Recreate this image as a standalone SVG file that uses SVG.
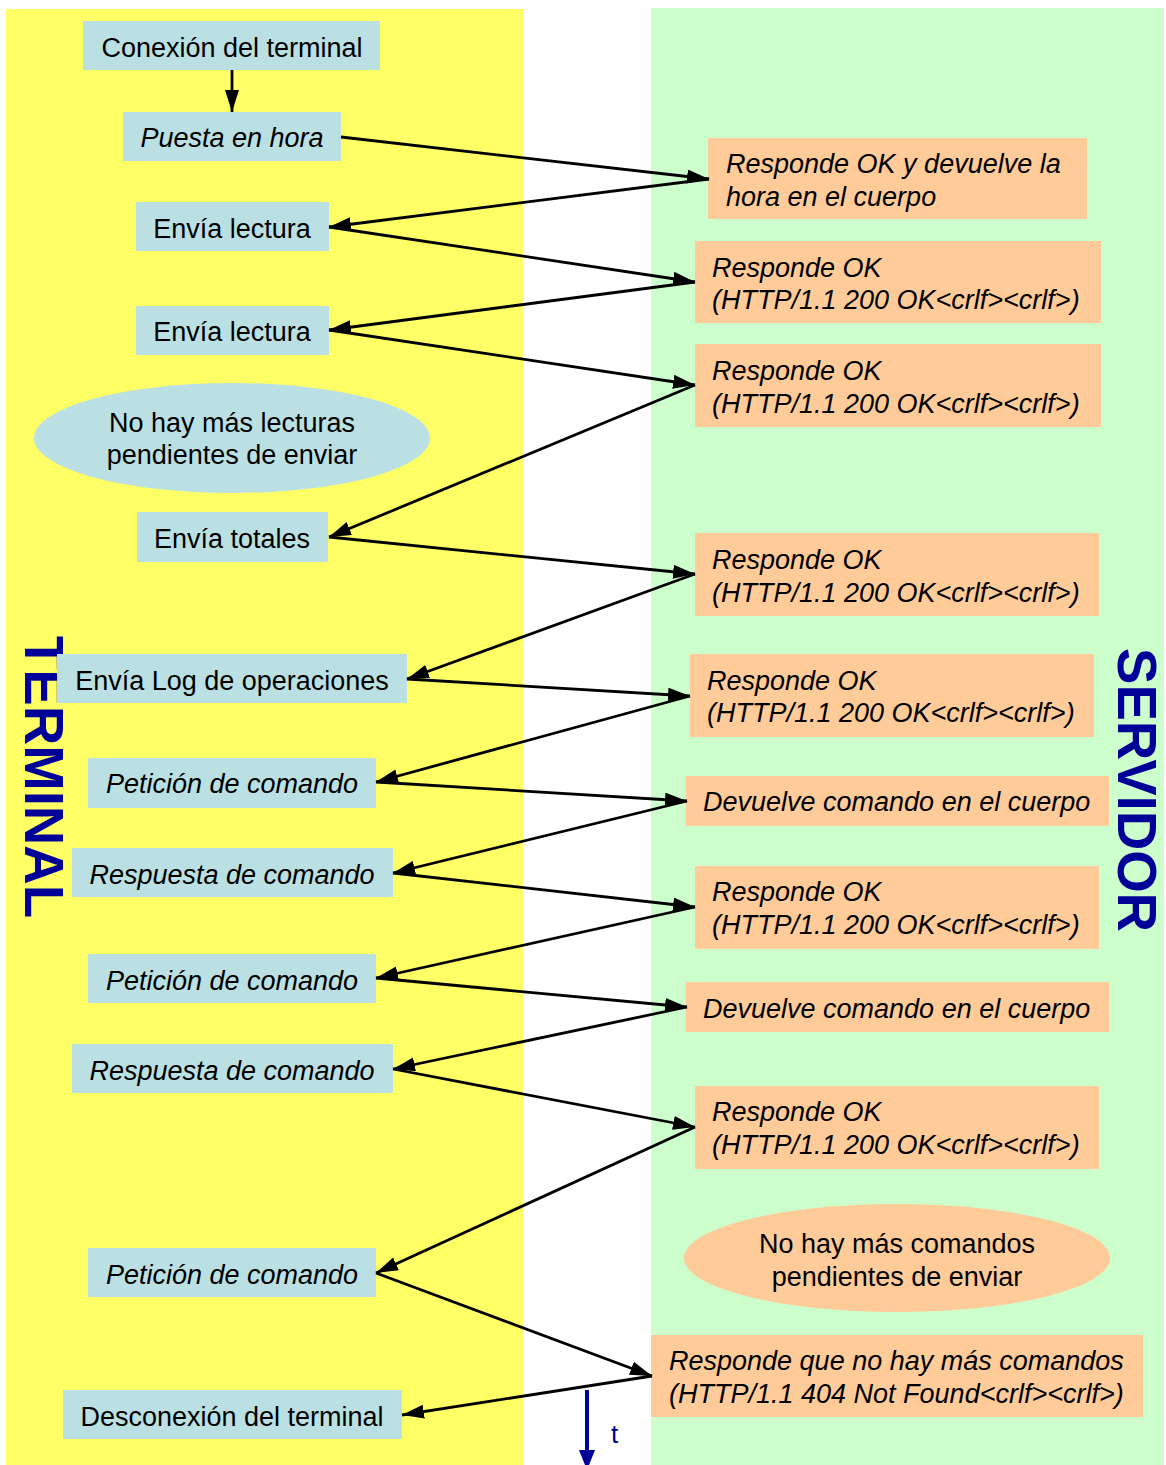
<svg xmlns="http://www.w3.org/2000/svg" width="1166" height="1465" viewBox="0 0 1166 1465">
<defs>
<marker id="ah" markerUnits="userSpaceOnUse" markerWidth="24" markerHeight="16" refX="22" refY="7" orient="auto">
<path d="M0,0 L22,7 L0,14 z" fill="#000"/>
</marker>
<marker id="ahb" markerUnits="userSpaceOnUse" markerWidth="22" markerHeight="16" refX="20" refY="8" orient="auto">
<path d="M0,0 L20,8 L0,16 z" fill="#000099"/>
</marker>
<style>
.t{font-family:"Liberation Sans",Arial,sans-serif;font-size:27px;fill:#000}
.i{font-style:italic}
.c{text-anchor:middle}
.bl{fill:#BBE0E3}
.or{fill:#FFCC99}
.lbl{font-family:"Liberation Sans",Arial,sans-serif;font-weight:bold;font-size:56px;fill:#000099}
.ln{stroke:#000;stroke-width:2.8;fill:none;marker-end:url(#ah)}
</style>
</defs>
<rect width="1166" height="1465" fill="#fff"/>
<rect x="6" y="9" width="517" height="1456" fill="#FFFF66"/>
<rect x="651" y="8" width="513" height="1457" fill="#CCFFCC"/>
<text class="lbl" transform="translate(25,636) rotate(90)" textLength="282" lengthAdjust="spacingAndGlyphs">TERMINAL</text>
<text class="lbl" transform="translate(1118,648) rotate(90)" textLength="284" lengthAdjust="spacingAndGlyphs">SERVIDOR</text>

<g id="n-conexion"><rect class="bl" x="83" y="21" width="297" height="49"/><text class="t c" x="232" y="57">Conexión del terminal</text></g>
<g id="n-puesta"><rect class="bl" x="123" y="112" width="218" height="49"/><text class="t i c" x="232" y="147">Puesta en hora</text></g>
<g id="n-lectura1"><rect class="bl" x="136" y="202" width="193" height="49"/><text class="t c" x="232" y="238">Envía lectura</text></g>
<g id="n-lectura2"><rect class="bl" x="136" y="306" width="193" height="49"/><text class="t c" x="232" y="341">Envía lectura</text></g>
<g id="n-nohaylect"><ellipse class="bl" cx="232" cy="438" rx="198" ry="55"/><text class="t c" x="232" y="432">No hay más lecturas</text><text class="t c" x="232" y="464">pendientes de enviar</text></g>
<g id="n-totales"><rect class="bl" x="137" y="512" width="191" height="50"/><text class="t c" x="232" y="548">Envía totales</text></g>
<g id="n-log"><rect class="bl" x="57" y="654" width="350" height="49"/><text class="t c" x="232" y="690">Envía Log de operaciones</text></g>
<g id="n-pet1"><rect class="bl" x="88" y="758" width="288" height="50"/><text class="t i c" x="232" y="793">Petición de comando</text></g>
<g id="n-resp1"><rect class="bl" x="72" y="848" width="321" height="49"/><text class="t i c" x="232" y="884">Respuesta de comando</text></g>
<g id="n-pet2"><rect class="bl" x="88" y="954" width="288" height="49"/><text class="t i c" x="232" y="990">Petición de comando</text></g>
<g id="n-resp2"><rect class="bl" x="72" y="1044" width="321" height="49"/><text class="t i c" x="232" y="1080">Respuesta de comando</text></g>
<g id="n-pet3"><rect class="bl" x="88" y="1248" width="288" height="49"/><text class="t i c" x="232" y="1284">Petición de comando</text></g>
<g id="n-desconexion"><rect class="bl" x="63" y="1390" width="339" height="49"/><text class="t c" x="232" y="1426">Desconexión del terminal</text></g>

<g id="s-hora"><rect class="or" x="708" y="138" width="379" height="81"/><text class="t i" x="726" y="173">Responde OK y devuelve la</text><text class="t i" x="726" y="206">hora en el cuerpo</text></g>
<g id="s-ok1"><rect class="or" x="695" y="241" width="406" height="82"/><text class="t i" x="712" y="277">Responde OK</text><text class="t i" x="712" y="309">(HTTP/1.1 200 OK&lt;crlf&gt;&lt;crlf&gt;)</text></g>
<g id="s-ok2"><rect class="or" x="695" y="344" width="406" height="83"/><text class="t i" x="712" y="380">Responde OK</text><text class="t i" x="712" y="413">(HTTP/1.1 200 OK&lt;crlf&gt;&lt;crlf&gt;)</text></g>
<g id="s-ok3"><rect class="or" x="695" y="533" width="404" height="83"/><text class="t i" x="712" y="569">Responde OK</text><text class="t i" x="712" y="602">(HTTP/1.1 200 OK&lt;crlf&gt;&lt;crlf&gt;)</text></g>
<g id="s-ok4"><rect class="or" x="690" y="654" width="404" height="83"/><text class="t i" x="707" y="690">Responde OK</text><text class="t i" x="707" y="722">(HTTP/1.1 200 OK&lt;crlf&gt;&lt;crlf&gt;)</text></g>
<g id="s-cmd1"><rect class="or" x="686" y="776" width="423" height="50"/><text class="t i" x="703" y="811">Devuelve comando en el cuerpo</text></g>
<g id="s-ok5"><rect class="or" x="695" y="866" width="404" height="83"/><text class="t i" x="712" y="901">Responde OK</text><text class="t i" x="712" y="934">(HTTP/1.1 200 OK&lt;crlf&gt;&lt;crlf&gt;)</text></g>
<g id="s-cmd2"><rect class="or" x="686" y="982" width="423" height="50"/><text class="t i" x="703" y="1018">Devuelve comando en el cuerpo</text></g>
<g id="s-ok6"><rect class="or" x="695" y="1086" width="404" height="83"/><text class="t i" x="712" y="1121">Responde OK</text><text class="t i" x="712" y="1154">(HTTP/1.1 200 OK&lt;crlf&gt;&lt;crlf&gt;)</text></g>
<g id="s-nohaycmd"><ellipse class="or" cx="897" cy="1258" rx="213" ry="54"/><text class="t c" x="897" y="1253">No hay más comandos</text><text class="t c" x="897" y="1286">pendientes de enviar</text></g>
<g id="s-404"><rect class="or" x="651" y="1335" width="492" height="82"/><text class="t i" x="669" y="1370">Responde que no hay más comandos</text><text class="t i" x="669" y="1403">(HTTP/1.1 404 Not Found&lt;crlf&gt;&lt;crlf&gt;)</text></g>

<g id="connectors">
<line class="ln" x1="232" y1="70" x2="232" y2="112"/>
<line class="ln" x1="341" y1="137" x2="709" y2="179"/>
<line class="ln" x1="709" y1="179" x2="329" y2="227"/>
<line class="ln" x1="329" y1="227" x2="695" y2="282"/>
<line class="ln" x1="695" y1="282" x2="329" y2="330"/>
<line class="ln" x1="329" y1="330" x2="695" y2="385"/>
<line class="ln" x1="695" y1="385" x2="329" y2="537"/>
<line class="ln" x1="329" y1="537" x2="695" y2="574"/>
<line class="ln" x1="695" y1="574" x2="407" y2="679"/>
<line class="ln" x1="407" y1="679" x2="690" y2="696"/>
<line class="ln" x1="690" y1="696" x2="376" y2="782"/>
<line class="ln" x1="376" y1="782" x2="687" y2="801"/>
<line class="ln" x1="687" y1="801" x2="393" y2="873"/>
<line class="ln" x1="393" y1="873" x2="695" y2="907"/>
<line class="ln" x1="695" y1="907" x2="376" y2="978"/>
<line class="ln" x1="376" y1="978" x2="687" y2="1007"/>
<line class="ln" x1="687" y1="1007" x2="393" y2="1069"/>
<line class="ln" x1="393" y1="1069" x2="695" y2="1127"/>
<line class="ln" x1="695" y1="1127" x2="376" y2="1273"/>
<line class="ln" x1="376" y1="1273" x2="652" y2="1376"/>
<line class="ln" x1="652" y1="1376" x2="402" y2="1415"/>
<line x1="587" y1="1390" x2="587" y2="1470" stroke="#000099" stroke-width="4" marker-end="url(#ahb)"/>
</g>
<text x="611" y="1443" style="font-family:'Liberation Sans',Arial,sans-serif;font-size:26px;fill:#000099">t</text>
</svg>
